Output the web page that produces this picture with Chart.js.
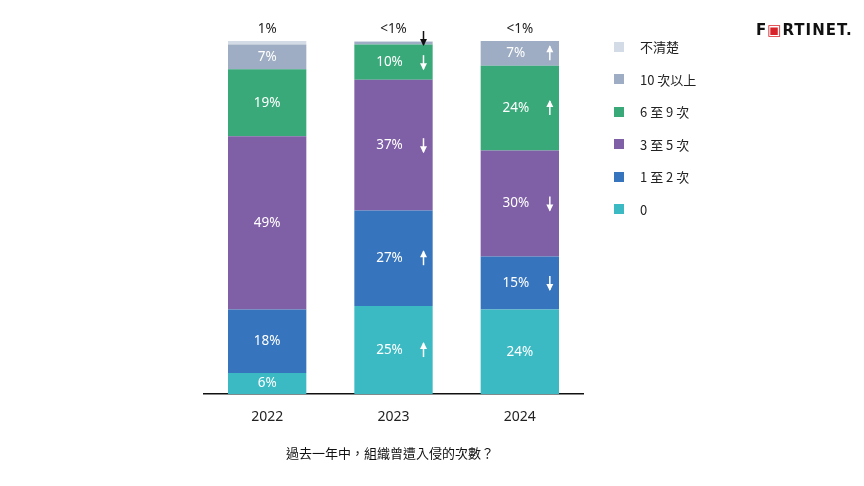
<!DOCTYPE html>
<html><head><meta charset="utf-8">
<script src="https://cdn.jsdelivr.net/npm/chart.js@4"></script>
<style>
body{margin:0;background:#fff;font-family:"Noto Sans CJK TC","Noto Sans",sans-serif}
#wrap{position:relative;width:864px;height:486px}
canvas{position:absolute;left:0;top:0}
.lg{position:absolute;left:614px;font-size:13px;color:#222;display:flex;align-items:center}
.lg span{display:inline-block;width:10px;height:10px;margin-right:16px}
#title{position:absolute;left:0;width:780px;top:443px;text-align:center;font-size:13px;color:#111}
#logo{position:absolute;left:756px;top:21px;font-family:"DejaVu Sans";font-weight:bold;font-size:15px;letter-spacing:1px;color:#111}
</style></head><body>
<div id="wrap"><canvas id="c" width="864" height="486"></canvas>
<div id="logo">F<span style="color:#d8232a">▣</span>RTINET.</div>
<div id="title">過去一年中，組織曾遭入侵的次數？</div>
</div>
<script>
const categories=["2022","2023","2024"];
const seriesNames=["0","1 至 2 次","3 至 5 次","6 至 9 次","10 次以上","不清楚"];
const colors=["#3bbac4","#3674bd","#7f5fa6","#3aa97a","#9eadc3","#d3dbe6"];
const values=[[6,25,24],[18,27,15],[49,37,30],[19,10,24],[7,0.7,7],[1,0.3,0.3]];
const labels=[["6%","25%","24%"],["18%","27%","15%"],["49%","37%","30%"],["19%","10%","24%"],["7%","",  "7%"],["1%","<1%","<1%"]];
const arrows=[[0,1,0],[0,1,-1],[0,-1,-1],[0,-1,1],[0,-2,1],[0,0,0]];
const wrap=document.getElementById('wrap');
seriesNames.slice().reverse().forEach((n,i)=>{const d=document.createElement('div');d.className='lg';d.style.top=(37+i*32.5)+'px';
d.innerHTML='<span style="background:'+colors[5-i]+'"></span>'+n;wrap.appendChild(d);});
function arrow(ctx,x,y,dir,col){ctx.save();ctx.strokeStyle=col;ctx.fillStyle=col;ctx.lineWidth=1.5;
ctx.beginPath();ctx.moveTo(x,y-7);ctx.lineTo(x,y+7);ctx.stroke();ctx.beginPath();
if(dir>0){ctx.moveTo(x,y-8);ctx.lineTo(x-3.5,y-1);ctx.lineTo(x+3.5,y-1);}else{ctx.moveTo(x,y+8);ctx.lineTo(x-3.5,y+1);ctx.lineTo(x+3.5,y+1);}
ctx.closePath();ctx.fill();ctx.restore();}
const plug={id:'lbl',afterDatasetsDraw(ch){const ctx=ch.ctx;ctx.font='13.5px "Noto Sans", sans-serif';ctx.textBaseline='middle';
ch.data.datasets.forEach((ds,di)=>{ch.getDatasetMeta(di).data.forEach((b,j)=>{const t=labels[di][j];const y=(b.y+b.base)/2;
if(di===5){ctx.fillStyle='#222';ctx.textAlign='center';ctx.fillText(t,b.x,29);return;}
const a=arrows[di][j];
if(a===-2){arrow(ctx,b.x+30,38,-1,'#111');return;}
ctx.fillStyle='#fff';ctx.textAlign='center';ctx.fillText(t,a?b.x-4:b.x,y);
if(a)arrow(ctx,b.x+30,y,a,'#fff');});});}};
new Chart(document.getElementById('c'),{type:'bar',
data:{labels:categories,datasets:values.map((v,i)=>({label:seriesNames[i],data:v,backgroundColor:colors[i],borderWidth:0}))},
options:{responsive:false,animation:false,layout:{padding:{left:204,right:281,top:41,bottom:55}},
plugins:{legend:{display:false},tooltip:{enabled:false}},
datasets:{bar:{barPercentage:0.62,categoryPercentage:1}},
scales:{x:{stacked:true,grid:{display:false},border:{color:'#111',width:1.5},ticks:{color:'#222',font:{size:14,family:'"Noto Sans"'},padding:6}},
y:{stacked:true,display:false,min:0,max:100}}},
plugins:[plug]});
</script></body></html>
